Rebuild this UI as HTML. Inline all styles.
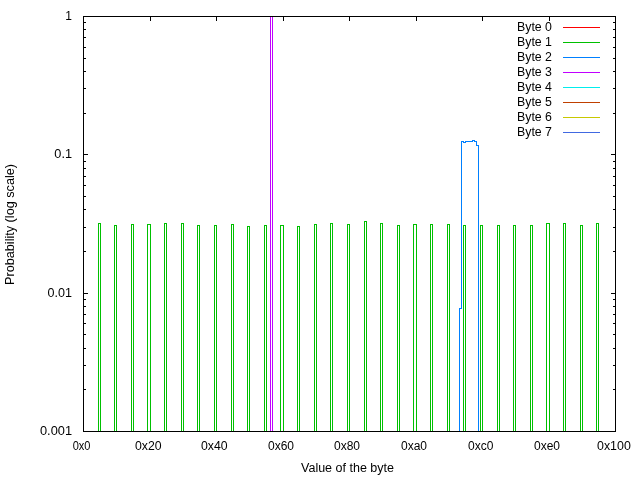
<!DOCTYPE html><html><head><meta charset="utf-8"><style>html,body{margin:0;padding:0;background:#fff;}svg{display:block;will-change:transform;}text{font-family:"Liberation Sans",sans-serif;fill:#000;}</style></head><body>
<svg width="640" height="480" viewBox="0 0 640 480">
<rect x="0" y="0" width="640" height="480" fill="#fff"/>
<path fill="none" stroke="#000" stroke-width="1" shape-rendering="crispEdges" d="M150.5 16V21M150.5 432V427M216.5 16V21M216.5 432V427M283.5 16V21M283.5 432V427M349.5 16V21M349.5 432V427M416.5 16V21M416.5 432V427M482.5 16V21M482.5 432V427M549.5 16V21M549.5 432V427M83 113.5H86M616 113.5H613M83 88.5H86M616 88.5H613M83 71.5H86M616 71.5H613M83 58.5H86M616 58.5H613M83 47.5H86M616 47.5H613M83 37.5H86M616 37.5H613M83 29.5H86M616 29.5H613M83 22.5H86M616 22.5H613M83 154.5H88M616 154.5H611M83 251.5H86M616 251.5H613M83 227.5H86M616 227.5H613M83 209.5H86M616 209.5H613M83 196.5H86M616 196.5H613M83 185.5H86M616 185.5H613M83 176.5H86M616 176.5H613M83 168.5H86M616 168.5H613M83 161.5H86M616 161.5H613M83 293.5H88M616 293.5H611M83 389.5H86M616 389.5H613M83 365.5H86M616 365.5H613M83 348.5H86M616 348.5H613M83 334.5H86M616 334.5H613M83 323.5H86M616 323.5H613M83 314.5H86M616 314.5H613M83 306.5H86M616 306.5H613M83 299.5H86M616 299.5H613"/>
<g fill="none" stroke-width="1" shape-rendering="crispEdges">
<path stroke="#00c000" d="M98.5 431V223.5H100.5V431M114.5 431V225.5H116.5V431M131.5 431V224.5H133.5V431M147.5 431V224.5H150.5V431M164.5 431V223.5H166.5V431M181.5 431V223.5H183.5V431M197.5 431V225.5H199.5V431M214.5 431V225.5H216.5V431M231.5 431V224.5H233.5V431M247.5 431V226.5H249.5V431M264.5 431V225.5H266.5V431M280.5 431V225.5H283.5V431M297.5 431V226.5H299.5V431M314.5 431V224.5H316.5V431M330.5 431V223.5H332.5V431M347.5 431V224.5H349.5V431M364.5 431V221.5H366.5V431M380.5 431V223.5H382.5V431M397.5 431V225.5H399.5V431M413.5 431V224.5H416.5V431M430.5 431V224.5H432.5V431M447.5 431V224.5H449.5V431M463.5 431V225.5H465.5V431M480.5 431V225.5H482.5V431M497.5 431V225.5H499.5V431M513.5 431V225.5H515.5V431M530.5 431V225.5H532.5V431M546.5 431V223.5H549.5V431M563.5 431V223.5H565.5V431M580.5 431V225.5H582.5V431M596.5 431V223.5H598.5V431"/>
<path stroke="#c000ff" d="M270.5 431V16.5H272.5V431"/>
<path stroke="#0080ff" d="M459.5 431V308.5H461.5V141.5H463.5V142.5H465.5V141.5H472.5V140.5H474.5V141.5H476.5V145.5H478.5V431"/>
</g>
<path fill="none" stroke="#000" stroke-width="1" shape-rendering="crispEdges" d="M83.5 16.5H615.5V431.5H83.5Z"/>
<path stroke="#ff0000" stroke-width="1" shape-rendering="crispEdges" d="M563 27.5H600"/>
<text x="517" y="31" font-size="12" textLength="35" lengthAdjust="spacingAndGlyphs">Byte 0</text>
<path stroke="#00c000" stroke-width="1" shape-rendering="crispEdges" d="M563 42.5H600"/>
<text x="517" y="46" font-size="12" textLength="35" lengthAdjust="spacingAndGlyphs">Byte 1</text>
<path stroke="#0080ff" stroke-width="1" shape-rendering="crispEdges" d="M563 57.5H600"/>
<text x="517" y="61" font-size="12" textLength="35" lengthAdjust="spacingAndGlyphs">Byte 2</text>
<path stroke="#c000ff" stroke-width="1" shape-rendering="crispEdges" d="M563 72.5H600"/>
<text x="517" y="76" font-size="12" textLength="35" lengthAdjust="spacingAndGlyphs">Byte 3</text>
<path stroke="#00eeee" stroke-width="1" shape-rendering="crispEdges" d="M563 87.5H600"/>
<text x="517" y="91" font-size="12" textLength="35" lengthAdjust="spacingAndGlyphs">Byte 4</text>
<path stroke="#c04000" stroke-width="1" shape-rendering="crispEdges" d="M563 102.5H600"/>
<text x="517" y="106" font-size="12" textLength="35" lengthAdjust="spacingAndGlyphs">Byte 5</text>
<path stroke="#c8c800" stroke-width="1" shape-rendering="crispEdges" d="M563 117.5H600"/>
<text x="517" y="121" font-size="12" textLength="35" lengthAdjust="spacingAndGlyphs">Byte 6</text>
<path stroke="#4169e1" stroke-width="1" shape-rendering="crispEdges" d="M563 132.5H600"/>
<text x="517" y="136" font-size="12" textLength="35" lengthAdjust="spacingAndGlyphs">Byte 7</text>
<text x="72" y="20" font-size="12" text-anchor="end">1</text>
<text x="72" y="158" font-size="12" text-anchor="end" textLength="17.7" lengthAdjust="spacingAndGlyphs">0.1</text>
<text x="72" y="297" font-size="12" text-anchor="end" textLength="24.4" lengthAdjust="spacingAndGlyphs">0.01</text>
<text x="72" y="435" font-size="12" text-anchor="end" textLength="32.0" lengthAdjust="spacingAndGlyphs">0.001</text>
<text x="72.7" y="450" font-size="12" textLength="17.8" lengthAdjust="spacingAndGlyphs">0x0</text>
<text x="135" y="450" font-size="12" textLength="26.6" lengthAdjust="spacingAndGlyphs">0x20</text>
<text x="201" y="450" font-size="12" textLength="26.6" lengthAdjust="spacingAndGlyphs">0x40</text>
<text x="268" y="450" font-size="12">0x60</text>
<text x="334" y="450" font-size="12">0x80</text>
<text x="401" y="450" font-size="12">0xa0</text>
<text x="468" y="450" font-size="12">0xc0</text>
<text x="534" y="450" font-size="12">0xe0</text>
<text x="597" y="450" font-size="12" textLength="33.8" lengthAdjust="spacingAndGlyphs">0x100</text>
<text x="301" y="472" font-size="12" textLength="93" lengthAdjust="spacingAndGlyphs">Value of the byte</text>
<text x="0" y="0" font-size="12" textLength="121" lengthAdjust="spacingAndGlyphs" transform="translate(14 285) rotate(-90)">Probability (log scale)</text>
</svg></body></html>
